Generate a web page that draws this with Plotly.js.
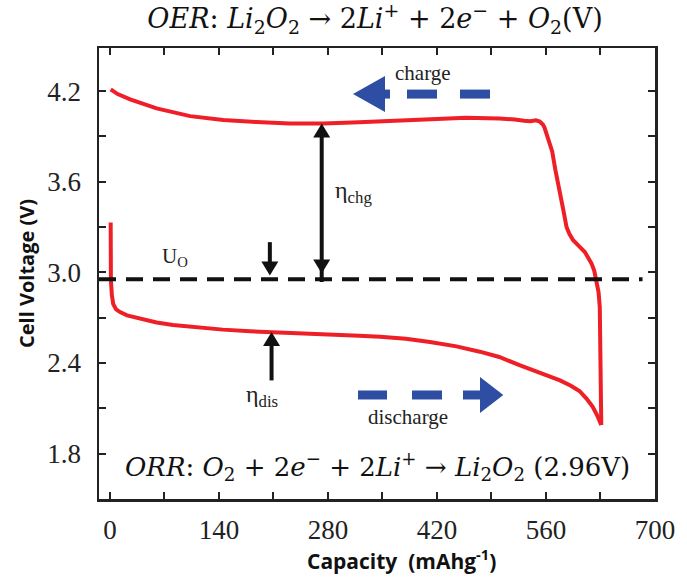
<!DOCTYPE html>
<html>
<head>
<meta charset="utf-8">
<script src="https://cdn.plot.ly/plotly-3.0.1.min.js"></script>
<style>html,body{margin:0;padding:0;background:#fff;}#chart{width:687px;height:579px;}</style>
</head>
<body>
<div id="chart"></div>
<script>
// ---- data ----
const dischargeCap = [1, 1, 1.3, 2.5, 4.3, 8, 13, 22, 38.5, 60, 81, 110, 145, 180, 207, 231, 280, 320, 347, 380, 411, 445, 475, 500, 526, 552, 578, 592, 603, 612, 620, 626, 631];
const dischargeV   = [3.33, 3.10, 2.95, 2.85, 2.79, 2.755, 2.737, 2.715, 2.694, 2.668, 2.652, 2.635, 2.621, 2.61, 2.603, 2.598, 2.59, 2.58, 2.574, 2.56, 2.539, 2.51, 2.475, 2.44, 2.386, 2.335, 2.285, 2.25, 2.215, 2.165, 2.11, 2.05, 1.99];
const chargeCap = [631, 630.5, 630, 629.5, 629.1, 627.5, 624.9, 622, 618.5, 614, 609.9, 603, 594.9, 590, 586.4, 582, 577.8, 572, 568, 565, 561.4, 558, 556, 552, 547, 540, 532, 520, 500, 457, 420, 372, 351, 320, 274, 231, 188, 145.5, 103, 60, 26, 10, 1];
const chargeV   = [1.99, 2.2, 2.5, 2.7, 2.77, 2.87, 2.947, 3.01, 3.058, 3.1, 3.135, 3.17, 3.213, 3.255, 3.30, 3.42, 3.52, 3.68, 3.8, 3.853, 3.92, 3.96, 3.978, 3.998, 4.006, 4.0, 4.003, 4.012, 4.018, 4.023, 4.015, 4.003, 4.003, 3.993, 3.986, 3.986, 3.995, 4.008, 4.034, 4.085, 4.145, 4.18, 4.211];
const U0 = 2.955;
const xTickVals = [0, 70, 140, 210, 280, 350, 420, 490, 560, 630, 700];
const xTickText = ['0', '', '140', '', '280', '', '420', '', '560', '', '700'];
const yTickVals = [1.8, 2.1, 2.4, 2.7, 3.0, 3.3, 3.6, 3.9, 4.2];
const yTickText = ['1.8', '', '2.4', '', '3.0', '', '3.6', '', '4.2'];

// ---- geometry helpers (pixel sizes -> data units) ----
const XR = [-14, 700], YR = [1.5, 4.485];
const M = {l: 99, r: 32, t: 48, b: 80};
const PW = 687 - M.l - M.r, PH = 579 - M.t - M.b;
const kx = PW / (XR[1] - XR[0]), ky = PH / (YR[1] - YR[0]);
const dx = p => p / kx, dy = p => p / ky;
const cap = px => XR[0] + (px - M.l) / kx;

const BLUE = '#2d4ea3', RED = '#ee1f26', INK = '#111';
const shapes = [];
// equilibrium dashed line
shapes.push({type: 'line', xref: 'x', yref: 'y', x0: XR[0], x1: 684, y0: U0, y1: U0,
  line: {color: INK, width: 4, dash: '17px,10px'}});

function blackArrow(x, yTail, yTip, both) {
  const hl = dy(14), hw = dx(8.5);
  const dir = yTip > yTail ? 1 : -1;
  shapes.push({type: 'line', xref: 'x', yref: 'y', x0: x, x1: x,
    y0: both ? yTail - dir * hl * 0.6 : yTail, y1: yTip - dir * hl * 0.6, line: {color: INK, width: 4}});
  const tri = (tipY, d) => `M ${x},${tipY} L ${x - hw},${tipY - d * hl} L ${x + hw},${tipY - d * hl} Z`;
  shapes.push({type: 'path', xref: 'x', yref: 'y', path: tri(yTip, dir), fillcolor: INK, line: {width: 0}});
  if (both) shapes.push({type: 'path', xref: 'x', yref: 'y', path: tri(yTail, -dir), fillcolor: INK, line: {width: 0}});
}
blackArrow(272, 2.992, 3.986, true);   // eta_chg
blackArrow(205.4, 3.20, 2.98, false);  // U_O
blackArrow(207.6, 2.285, 2.605, false);// eta_dis

function rect(px0, px1, yc, th) {
  shapes.push({type: 'rect', xref: 'x', yref: 'y', x0: cap(px0), x1: cap(px1),
    y0: yc - dy(th / 2), y1: yc + dy(th / 2), fillcolor: BLUE, line: {width: 0}});
}
function head(pxTip, pxBack, yc, hh) {
  shapes.push({type: 'path', xref: 'x', yref: 'y',
    path: `M ${cap(pxTip)},${yc} L ${cap(pxBack)},${yc + dy(hh)} L ${cap(pxBack)},${yc - dy(hh)} Z`,
    fillcolor: BLUE, line: {width: 0}});
}
// charge arrow (pointing left)
const yc1 = 4.18;
head(353, 385, yc1, 18); rect(380, 390, yc1, 9); rect(407, 437, yc1, 9); rect(460, 490, yc1, 9);
// discharge arrow (pointing right)
const yc2 = 2.1885;
rect(358, 387, yc2, 9); rect(412, 442, yc2, 9); rect(463, 484, yc2, 9); head(503.3, 480, yc2, 18);

const serif = 'Liberation Serif, Times New Roman, serif';
const mathFont = 'DejaVu Serif, serif';
const sp = '\u00A0';
const ann = (x, y, text, size, extra) => Object.assign({xref: 'x', yref: 'y', x: x, y: y, text: text,
  showarrow: false, font: {family: serif, size: size, color: '#222'}}, extra || {});
const annotations = [
  ann(286.5, 3.532, 'η<sub>chg</sub>', 24, {xanchor: 'left'}),
  ann(83.6, 3.099, 'U<sub>O</sub>', 21),
  ann(195.9, 2.185, 'η<sub>dis</sub>', 24),
  ann(402, 4.32, 'charge', 21),
  ann(382.8, 2.043, 'discharge', 21),
  ann(343.6, 1.712, '<i>ORR</i>:' + sp + '<i>O</i><sub>2</sub>' + sp + '+' + sp + '2<i>e</i><sup>−</sup>' + sp + '+' + sp + '2<i>Li</i><sup>+</sup>' + sp + '→' + sp + '<i>Li</i><sub>2</sub><i>O</i><sub>2</sub>' + sp + '(2.96V)', 26,
    {font: {family: mathFont, size: 26, color: '#111'}}),
  {xref: 'paper', yref: 'paper', x: (401 - M.l) / PW, y: -(559 - (M.t + PH)) / PH, xanchor: 'center', yanchor: 'middle',
    showarrow: false, text: 'Capacity' + sp + sp + '(mAhg<sup>-1</sup>)',
    font: {family: 'Open Sans, sans-serif', size: 21, color: '#111', weight: 'bold'}}
];

const traces = [
  {x: dischargeCap, y: dischargeV, mode: 'lines', line: {color: RED, width: 4}, hoverinfo: 'skip', name: 'discharge'},
  {x: chargeCap, y: chargeV, mode: 'lines', line: {color: RED, width: 4}, hoverinfo: 'skip', name: 'charge'}
];

const axisCommon = {showline: true, linecolor: '#222', linewidth: 2.5, mirror: 'allticks', ticks: 'inside',
  ticklen: 7, tickwidth: 2, tickcolor: '#222', showgrid: false, zeroline: false,
  tickfont: {family: serif, size: 27, color: '#222'}};

const layout = {
  width: 687, height: 579, margin: M, paper_bgcolor: '#fff', plot_bgcolor: '#fff', showlegend: false,
  title: {text: '<i>OER</i>:' + sp + '<i>Li</i><sub>2</sub><i>O</i><sub>2</sub>' + sp + '→' + sp + '2<i>Li</i><sup>+</sup>' + sp + '+' + sp + '2<i>e</i><sup>−</sup>' + sp + '+' + sp + '<i>O</i><sub>2</sub>(V)',
    x: 375 / 687, xanchor: 'center', y: 1 - 19 / 579, yanchor: 'middle', xref: 'container', yref: 'container',
    font: {family: mathFont, size: 27, color: '#111'}},
  xaxis: Object.assign({}, axisCommon, {range: XR, tickmode: 'array', tickvals: xTickVals, ticktext: xTickText,
    ticklabelstandoff: 5}),
  yaxis: Object.assign({}, axisCommon, {range: YR, tickmode: 'array', tickvals: yTickVals, ticktext: yTickText,
    ticklabelstandoff: 10,
    title: {text: 'Cell Voltage (V)', standoff: 8,
      font: {family: 'Open Sans, sans-serif', size: 20, color: '#111', weight: 'bold'}}}),
  shapes: shapes, annotations: annotations
};

Plotly.newPlot('chart', traces, layout, {staticPlot: true, displayModeBar: false});
</script>
</body>
</html>
